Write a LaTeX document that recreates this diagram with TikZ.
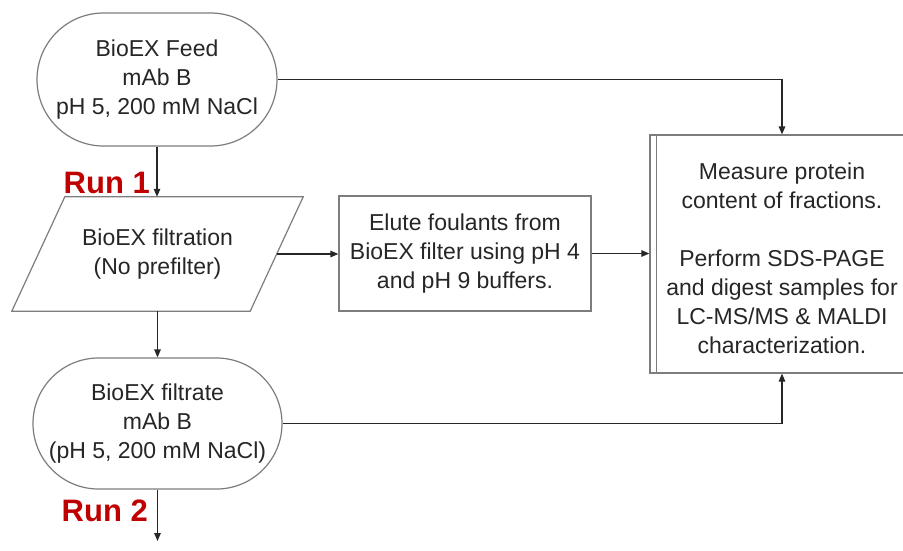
\documentclass[tikz,border=0pt]{standalone}
\usepackage{fontspec}
\setmainfont{Liberation Sans}
\usetikzlibrary{shapes.misc,arrows.meta,calc}
\definecolor{runred}{RGB}{192,0,0}
\definecolor{ink}{RGB}{38,38,38}
\definecolor{edge}{RGB}{125,125,125}
\tikzset{
  txt/.style={font=\fontsize{23}{29}\selectfont, text=ink, align=center, inner sep=0pt},
  stadium/.style={txt, rounded rectangle, draw=edge, line width=1.2pt},
  plainbox/.style={txt, rectangle, draw=edge, line width=1.2pt},
  arr/.style={draw=black!85, line width=1.3pt, -{Triangle[length=8pt,width=6.5pt]}},
  runlabel/.style={font=\fontsize{31}{36}\selectfont\bfseries, text=runred, inner sep=0pt, anchor=base east}
}
\begin{document}
\begin{tikzpicture}[x=1pt,y=-1pt]
\clip (0,0) rectangle (903,550);
\fill[white] (0,0) rectangle (903,550);

% feed and filtrate terminals
\node[stadium, minimum width=240pt, minimum height=133pt] (feed) at (157,79.5)
  {BioEX Feed\\mAb B\\pH 5, 200 mM NaCl};
\node[stadium, minimum width=249pt, minimum height=131pt] (filtrate) at (157.5,423.5)
  {BioEX filtrate\\mAb B\\(pH 5, 200 mM NaCl)};

% filtration step: a parallelogram drawn around an invisible rectangle
\node[txt, minimum width=238pt, minimum height=114pt] (filt) at (157.5,254)
  {BioEX filtration\\(No prefilter)};
\draw[draw=edge, line width=1.2pt]
  ($(filt.north west)+(26.5,0)$) -- ($(filt.north east)+(26.5,0)$) --
  ($(filt.south east)-(26.5,0)$) -- ($(filt.south west)-(26.5,0)$) -- cycle;

% elution step
\node[plainbox, minimum width=252pt, minimum height=115pt] (elute) at (465,253.5)
  {Elute foulants from\\BioEX filter using pH 4\\and pH 9 buffers.};

% analysis box with a double left border
\node[plainbox, minimum width=264pt, minimum height=238pt] (box) at (782,254) {};
\draw[draw=edge, line width=1.2pt] ($(box.north west)+(7,0)$) -- ($(box.south west)+(7,0)$);
\node[txt] (boxtext) at (782,258)
  {Measure protein\\content of fractions.\\[29pt]Perform SDS-PAGE\\and digest samples for\\LC-MS/MS \& MALDI\\characterization.};

% run labels
\node[runlabel] (run1) at (150,193) {Run 1};
\node[runlabel] (run2) at (148,521) {Run 2};

% connectors
\coordinate (next) at (157.5,541);
\draw[arr] (feed.east) -| (box.north);
\draw[arr] (feed.south) -- (feed.south |- filt.north);
\draw[arr] (filt.south) -- (filtrate.north);
\draw[arr] (filt.east) -- (elute.west |- filt.east);
\draw[arr] (elute.east) -- (box.west |- elute.east);
\draw[arr] (filtrate.east) -| (box.south);
\draw[arr] (filtrate.south) -- (next);
\end{tikzpicture}
\end{document}
